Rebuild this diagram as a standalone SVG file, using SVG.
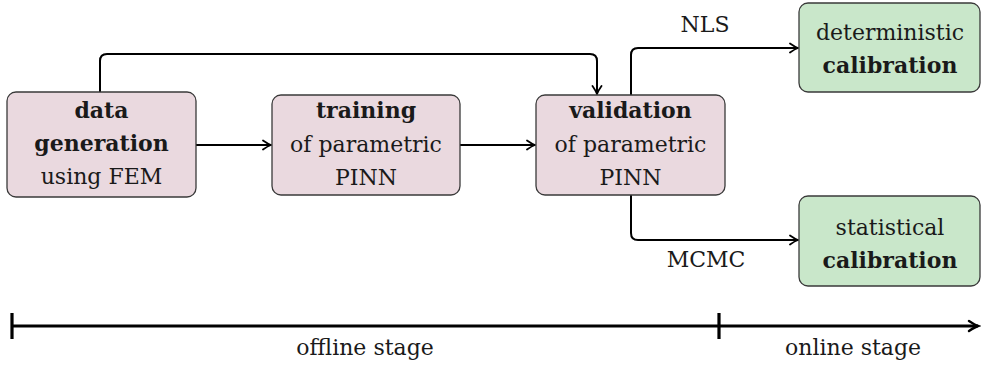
<svg xmlns="http://www.w3.org/2000/svg" width="981" height="368" viewBox="0 0 981 368">
<style>
.pink{fill:#ead9df;stroke:#3a3a3a;stroke-width:1.3}
.green{fill:#c9e7ca;stroke:#3a3a3a;stroke-width:1.3}
text{font-family:"DejaVu Serif","Liberation Serif",serif;font-size:22px;fill:#1a1a1a;text-anchor:middle}
.b{font-weight:bold}
.c{fill:none;stroke:#000;stroke-width:2}
.t{fill:none;stroke:#000;stroke-width:3.2}
</style>
<defs>
<marker id="ah" markerUnits="userSpaceOnUse" markerWidth="14" markerHeight="14" refX="12" refY="7" orient="auto">
<path d="M4 2.5 Q9 6 12 7 Q9 8 4 11.5" fill="none" stroke="#000" stroke-width="1.8" stroke-linecap="round"/>
</marker>
<marker id="ah2" markerUnits="userSpaceOnUse" markerWidth="16" markerHeight="16" refX="13" refY="8" orient="auto">
<path d="M4 3 Q10 7 13 8 Q10 9 4 13" fill="none" stroke="#000" stroke-width="2.4" stroke-linecap="round"/>
</marker>
</defs>
<g id="connectors">
<path class="c" d="M196 145 H271" marker-end="url(#ah)"/>
<path class="c" d="M460 145 H535" marker-end="url(#ah)"/>
<path class="c" d="M100 92 V61 Q100 54 107 54 H590 Q597 54 597 61 V94" marker-end="url(#ah)"/>
<path class="c" d="M631 95 V55 Q631 48 638 48 H798" marker-end="url(#ah)"/>
<path class="c" d="M631 195 V233 Q631 240 638 240 H798" marker-end="url(#ah)"/>
<text x="705" y="32">NLS</text>
<text x="706" y="267">MCMC</text>
</g>
<g id="data-generation">
<rect class="pink" x="7" y="92" width="189" height="105" rx="9"/>
<text class="b" x="101.5" y="118">data</text>
<text class="b" x="101.5" y="151">generation</text>
<text x="101.5" y="184">using FEM</text>
</g>
<g id="training">
<rect class="pink" x="272" y="95" width="188" height="100" rx="9"/>
<text class="b" x="366" y="118">training</text>
<text x="366" y="152">of parametric</text>
<text x="366" y="185">PINN</text>
</g>
<g id="validation">
<rect class="pink" x="536" y="95" width="189" height="100" rx="9"/>
<text class="b" x="630.5" y="118">validation</text>
<text x="630.5" y="152">of parametric</text>
<text x="630.5" y="185">PINN</text>
</g>
<g id="deterministic">
<rect class="green" x="799" y="3" width="181" height="89" rx="9"/>
<text x="890" y="40">deterministic</text>
<text class="b" x="890" y="73">calibration</text>
</g>
<g id="statistical">
<rect class="green" x="799" y="196" width="181" height="90" rx="9"/>
<text x="890" y="235">statistical</text>
<text class="b" x="890" y="268">calibration</text>
</g>
<g id="timeline">
<path class="t" d="M12 326 H978" marker-end="url(#ah2)"/>
<path class="t" d="M12 313 V339 M719 313 V339"/>
<text x="365" y="355">offline stage</text>
<text x="853" y="355">online stage</text>
</g>
</svg>
